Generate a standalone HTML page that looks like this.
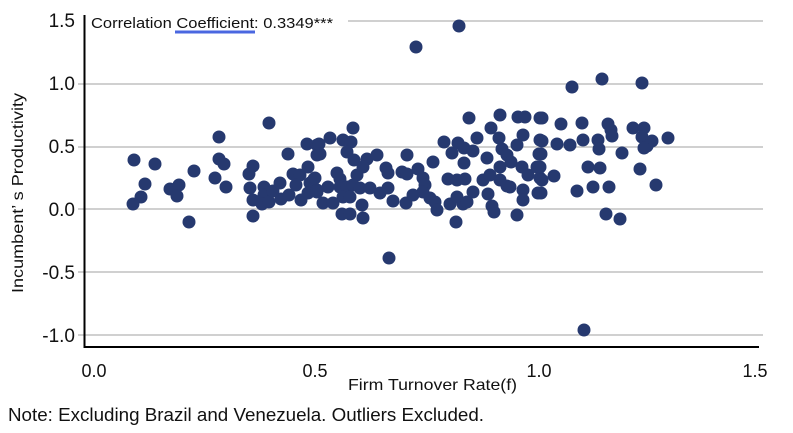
<!DOCTYPE html>
<html><head><meta charset="utf-8"><style>
html,body{margin:0;padding:0;background:#fff;width:793px;height:433px;overflow:hidden}
svg{display:block}
text{font-family:"Liberation Sans",sans-serif;fill:#111}
</style></head><body>
<svg width="793" height="433" viewBox="0 0 793 433" xmlns="http://www.w3.org/2000/svg">
<g stroke="#d0d0d0" stroke-width="2">
<line x1="348" y1="21" x2="763" y2="21"/>
<line x1="78" y1="84" x2="763" y2="84"/>
<line x1="78" y1="147" x2="763" y2="147"/>
<line x1="78" y1="209" x2="763" y2="209"/>
<line x1="78" y1="272" x2="763" y2="272"/>
<line x1="78" y1="335" x2="763" y2="335"/>
</g>
<line x1="84.5" y1="15" x2="84.5" y2="348" stroke="#000" stroke-width="2"/>
<line x1="84" y1="347" x2="759" y2="347" stroke="#000" stroke-width="2"/>
<g font-size="19" text-anchor="end">
<text x="75" y="27">1.5</text>
<text x="75" y="90">1.0</text>
<text x="75" y="153">0.5</text>
<text x="75" y="216">0.0</text>
<text x="75" y="279">-0.5</text>
<text x="75" y="342">-1.0</text>
</g>
<g font-size="18" text-anchor="middle">
<text x="94" y="377">0.0</text>
<text x="315" y="377">0.5</text>
<text x="539" y="377">1.0</text>
<text x="755" y="377">1.5</text>
</g>
<text x="91" y="28" font-size="15" textLength="242" lengthAdjust="spacingAndGlyphs">Correlation  Coefficient:  0.3349***</text>
<line x1="175" y1="32" x2="255" y2="32" stroke="#4a67e0" stroke-width="3"/>
<text x="348" y="390" font-size="16" textLength="169" lengthAdjust="spacingAndGlyphs">Firm Turnover Rate(f)</text>
<text x="8" y="421" font-size="18" textLength="476" lengthAdjust="spacingAndGlyphs">Note: Excluding Brazil and Venezuela. Outliers Excluded.</text>
<text transform="translate(23,293) rotate(-90)" font-size="16" textLength="200" lengthAdjust="spacingAndGlyphs">Incumbent’  s Productivity</text>
<g fill="#26396f">
<circle cx="134" cy="160" r="6.5"/><circle cx="155" cy="164" r="6.5"/><circle cx="145" cy="184" r="6.5"/><circle cx="141" cy="197" r="6.5"/><circle cx="133" cy="204" r="6.5"/><circle cx="170" cy="189" r="6.5"/><circle cx="179" cy="185" r="6.5"/><circle cx="177" cy="196" r="6.5"/><circle cx="194" cy="171" r="6.5"/><circle cx="189" cy="222" r="6.5"/><circle cx="219" cy="137" r="6.5"/><circle cx="219" cy="159" r="6.5"/><circle cx="224" cy="164" r="6.5"/><circle cx="215" cy="178" r="6.5"/><circle cx="226" cy="187" r="6.5"/><circle cx="269" cy="123" r="6.5"/><circle cx="253" cy="166" r="6.5"/><circle cx="249" cy="174" r="6.5"/><circle cx="250" cy="188" r="6.5"/><circle cx="253" cy="200" r="6.5"/><circle cx="253" cy="216" r="6.5"/><circle cx="264" cy="187" r="6.5"/><circle cx="264" cy="195" r="6.5"/><circle cx="262" cy="204" r="6.5"/><circle cx="269" cy="202" r="6.5"/><circle cx="273" cy="191" r="6.5"/><circle cx="280" cy="183" r="6.5"/><circle cx="281" cy="199" r="6.5"/><circle cx="289" cy="195" r="6.5"/><circle cx="288" cy="154" r="6.5"/><circle cx="293" cy="174" r="6.5"/><circle cx="300" cy="175" r="6.5"/><circle cx="296" cy="185" r="6.5"/><circle cx="301" cy="200" r="6.5"/><circle cx="307" cy="144" r="6.5"/><circle cx="308" cy="167" r="6.5"/><circle cx="310" cy="183" r="6.5"/><circle cx="308" cy="193" r="6.5"/><circle cx="314" cy="179" r="6.5"/><circle cx="317" cy="145" r="6.5"/><circle cx="317" cy="155" r="6.5"/><circle cx="317" cy="190" r="6.5"/>
<circle cx="353" cy="128" r="6.5"/><circle cx="330" cy="138" r="6.5"/><circle cx="319" cy="144" r="6.5"/><circle cx="343" cy="140" r="6.5"/><circle cx="351" cy="142" r="6.5"/><circle cx="347" cy="152" r="6.5"/><circle cx="320" cy="154" r="6.5"/><circle cx="354" cy="160" r="6.5"/><circle cx="367" cy="159" r="6.5"/><circle cx="377" cy="155" r="6.5"/><circle cx="363" cy="167" r="6.5"/><circle cx="337" cy="173" r="6.5"/><circle cx="340" cy="179" r="6.5"/><circle cx="357" cy="175" r="6.5"/><circle cx="315" cy="178" r="6.5"/><circle cx="317" cy="192" r="6.5"/><circle cx="328" cy="187" r="6.5"/><circle cx="340" cy="187" r="6.5"/><circle cx="347" cy="187" r="6.5"/><circle cx="353" cy="185" r="6.5"/><circle cx="360" cy="188" r="6.5"/><circle cx="370" cy="188" r="6.5"/><circle cx="380" cy="193" r="6.5"/><circle cx="388" cy="188" r="6.5"/><circle cx="343" cy="197" r="6.5"/><circle cx="350" cy="197" r="6.5"/><circle cx="323" cy="203" r="6.5"/><circle cx="333" cy="203" r="6.5"/><circle cx="362" cy="205" r="6.5"/><circle cx="342" cy="214" r="6.5"/><circle cx="350" cy="214" r="6.5"/><circle cx="363" cy="218" r="6.5"/><circle cx="393" cy="201" r="6.5"/><circle cx="386" cy="168" r="6.5"/><circle cx="388" cy="173" r="6.5"/><circle cx="407" cy="155" r="6.5"/><circle cx="402" cy="172" r="6.5"/><circle cx="407" cy="174" r="6.5"/><circle cx="418" cy="169" r="6.5"/><circle cx="423" cy="178" r="6.5"/><circle cx="425" cy="185" r="6.5"/><circle cx="423" cy="192" r="6.5"/><circle cx="430" cy="198" r="6.5"/><circle cx="435" cy="202" r="6.5"/><circle cx="437" cy="210" r="6.5"/><circle cx="406" cy="203" r="6.5"/><circle cx="413" cy="195" r="6.5"/><circle cx="433" cy="162" r="6.5"/><circle cx="444" cy="142" r="6.5"/><circle cx="452" cy="153" r="6.5"/><circle cx="458" cy="143" r="6.5"/><circle cx="464" cy="148" r="6.5"/><circle cx="473" cy="151" r="6.5"/><circle cx="464" cy="163" r="6.5"/><circle cx="448" cy="179" r="6.5"/><circle cx="457" cy="180" r="6.5"/><circle cx="465" cy="179" r="6.5"/><circle cx="450" cy="204" r="6.5"/><circle cx="457" cy="197" r="6.5"/><circle cx="463" cy="204" r="6.5"/><circle cx="467" cy="202" r="6.5"/><circle cx="456" cy="222" r="6.5"/><circle cx="469" cy="118" r="6.5"/><circle cx="477" cy="138" r="6.5"/><circle cx="473" cy="192" r="6.5"/><circle cx="483" cy="180" r="6.5"/><circle cx="487" cy="158" r="6.5"/><circle cx="490" cy="175" r="6.5"/><circle cx="488" cy="194" r="6.5"/><circle cx="492" cy="206" r="6.5"/><circle cx="494" cy="212" r="6.5"/><circle cx="491" cy="128" r="6.5"/><circle cx="500" cy="115" r="6.5"/><circle cx="499" cy="138" r="6.5"/><circle cx="502" cy="149" r="6.5"/><circle cx="507" cy="155" r="6.5"/><circle cx="511" cy="162" r="6.5"/><circle cx="500" cy="167" r="6.5"/><circle cx="500" cy="180" r="6.5"/><circle cx="507" cy="186" r="6.5"/><circle cx="510" cy="187" r="6.5"/><circle cx="517" cy="215" r="6.5"/><circle cx="523" cy="190" r="6.5"/><circle cx="523" cy="200" r="6.5"/><circle cx="517" cy="145" r="6.5"/><circle cx="523" cy="135" r="6.5"/><circle cx="518" cy="117" r="6.5"/><circle cx="525" cy="117" r="6.5"/><circle cx="522" cy="167" r="6.5"/><circle cx="528" cy="175" r="6.5"/><circle cx="537" cy="167" r="6.5"/><circle cx="540" cy="178" r="6.5"/><circle cx="538" cy="193" r="6.5"/><circle cx="540" cy="140" r="6.5"/><circle cx="540" cy="118" r="6.5"/><circle cx="539" cy="154" r="6.5"/>
<circle cx="572" cy="87" r="6.5"/><circle cx="602" cy="79" r="6.5"/><circle cx="642" cy="83" r="6.5"/><circle cx="542" cy="118" r="6.5"/><circle cx="561" cy="124" r="6.5"/><circle cx="582" cy="123" r="6.5"/><circle cx="608" cy="124" r="6.5"/><circle cx="611" cy="130" r="6.5"/><circle cx="612" cy="136" r="6.5"/><circle cx="633" cy="128" r="6.5"/><circle cx="644" cy="128" r="6.5"/><circle cx="642" cy="137" r="6.5"/><circle cx="652" cy="141" r="6.5"/><circle cx="647" cy="146" r="6.5"/><circle cx="644" cy="148" r="6.5"/><circle cx="668" cy="138" r="6.5"/><circle cx="542" cy="141" r="6.5"/><circle cx="557" cy="144" r="6.5"/><circle cx="570" cy="145" r="6.5"/><circle cx="583" cy="140" r="6.5"/><circle cx="598" cy="140" r="6.5"/><circle cx="599" cy="149" r="6.5"/><circle cx="622" cy="153" r="6.5"/><circle cx="541" cy="154" r="6.5"/><circle cx="540" cy="167" r="6.5"/><circle cx="554" cy="176" r="6.5"/><circle cx="588" cy="167" r="6.5"/><circle cx="600" cy="168" r="6.5"/><circle cx="640" cy="169" r="6.5"/><circle cx="542" cy="180" r="6.5"/><circle cx="541" cy="193" r="6.5"/><circle cx="577" cy="191" r="6.5"/><circle cx="593" cy="187" r="6.5"/><circle cx="609" cy="187" r="6.5"/><circle cx="656" cy="185" r="6.5"/><circle cx="606" cy="214" r="6.5"/><circle cx="620" cy="219" r="6.5"/>
<circle cx="416" cy="47" r="6.5"/><circle cx="459" cy="26" r="6.5"/><circle cx="389" cy="258" r="6.5"/><circle cx="584" cy="330" r="6.5"/>
</g>
</svg>
</body></html>
